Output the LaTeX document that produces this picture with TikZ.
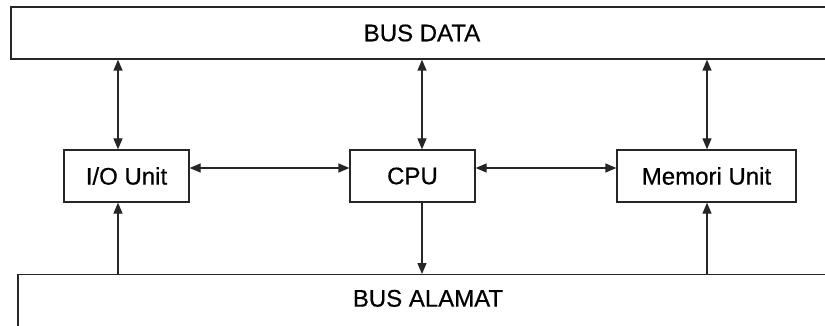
\documentclass[tikz,border=0pt]{standalone}
\usepackage{fontspec}
\setmainfont{Liberation Sans}
\usetikzlibrary{arrows.meta}

\begin{document}
\begin{tikzpicture}[x=1pt,y=-1pt,
    font=\fontsize{24}{28}\selectfont\addfontfeature{FakeBold=0.5},
    line width=1.3pt,
    unit/.style={draw=black!85, rectangle, minimum height=52pt, inner sep=0pt},
    bus/.style={draw=black!85, rectangle, inner sep=0pt},
    link/.style={-{Triangle[length=11pt,width=9pt]}, black!85},
    dlink/.style={{Triangle[length=11pt,width=9pt]}-{Triangle[length=11pt,width=9pt]}, black!85}]
    \useasboundingbox (0,0) rectangle (825,326);
    \clip (0,0) rectangle (825,326);
    % the two buses
    \node [bus, minimum width=822pt, minimum height=52pt] (busdata) at (422,33) {BUS DATA};
    \node [bus, anchor=north, minimum width=820pt, text height=18pt, text depth=40pt, inner ysep=14pt]
        (busalamat) at (428,274) {BUS ALAMAT};
    % units
    \node [unit, minimum width=125pt] (io) at (126.5,176) {I/O Unit};
    \node [unit, minimum width=125pt] (cpu) at (412.5,176) {CPU};
    \node [unit, minimum width=179pt] (mem) at (706.5,176) {Memori Unit};
    % data bus
    \draw [dlink] ([xshift=-8.5pt]io.north) -- ([xshift=-8.5pt]io.north |- busdata.south);
    \draw [dlink] ([xshift=9.5pt]cpu.north) -- ([xshift=9.5pt]cpu.north |- busdata.south);
    \draw [dlink] ([xshift=0.5pt]mem.north) -- ([xshift=0.5pt]mem.north |- busdata.south);
    % between units
    \draw [dlink] ([yshift=8pt]io.east) -- ([yshift=8pt]cpu.west);
    \draw [dlink] ([yshift=8pt]cpu.east) -- ([yshift=8pt]mem.west);
    % address bus
    \draw [link] ([xshift=-8.5pt]io.south |- busalamat.north) -- ([xshift=-8.5pt]io.south);
    \draw [link] ([xshift=9.5pt]cpu.south) -- ([xshift=9.5pt]cpu.south |- busalamat.north);
    \draw [link] ([xshift=0.5pt]mem.south |- busalamat.north) -- ([xshift=0.5pt]mem.south);
\end{tikzpicture}
\end{document}
